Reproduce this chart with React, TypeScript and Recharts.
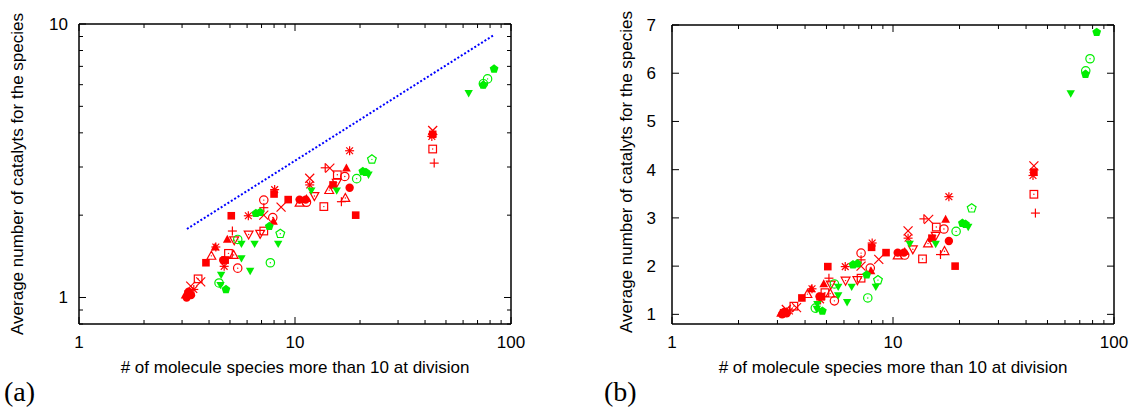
import React from 'react'
import { ScatterChart, Scatter, XAxis, YAxis } from 'recharts'

type Pt = { x: number; y: number }

// values (same data, log y on the left, linear y on the right)
const redFilledSquare: Pt[] = [
    { x: 3.2, y: 1.03 }, { x: 3.87, y: 1.34 }, { x: 4.75, y: 1.37 }, { x: 5.07, y: 1.99 },
    { x: 8.0, y: 2.39 }, { x: 9.3, y: 2.28 }, { x: 15.0, y: 2.58 }, { x: 19.1, y: 2.0 }, { x: 43.4, y: 3.95 },
]
const redFilledCircle: Pt[] = [
    { x: 3.15, y: 1.0 }, { x: 3.3, y: 1.02 }, { x: 3.22, y: 1.05 }, { x: 4.65, y: 1.37 },
    { x: 10.5, y: 2.28 }, { x: 11.2, y: 2.28 }, { x: 17.9, y: 2.52 },
]
const redFilledTriangle: Pt[] = [
    { x: 3.1, y: 1.02 }, { x: 4.27, y: 1.53 }, { x: 4.86, y: 1.63 }, { x: 7.95, y: 1.9 },
    { x: 11.3, y: 2.3 }, { x: 17.3, y: 2.97 },
]
const redOpenTriangle: Pt[] = [
    { x: 4.1, y: 1.42 }, { x: 5.2, y: 1.43 }, { x: 10.5, y: 2.22 }, { x: 14.4, y: 2.47 }, { x: 17.1, y: 2.31 },
]
const redOpenTriangleDown: Pt[] = [
    { x: 5.23, y: 1.62 }, { x: 6.1, y: 1.7 }, { x: 6.9, y: 1.71 }, { x: 12.3, y: 2.35 }, { x: 15.6, y: 2.63 },
]
const redOpenSquare: Pt[] = [
    { x: 3.56, y: 1.17 }, { x: 4.92, y: 1.45 }, { x: 7.17, y: 1.75 }, { x: 13.6, y: 2.15 },
    { x: 15.7, y: 2.81 }, { x: 43.4, y: 3.49 },
]
const redOpenCircle: Pt[] = [
    { x: 5.43, y: 1.28 }, { x: 7.17, y: 2.27 }, { x: 7.89, y: 1.96 }, { x: 11.3, y: 2.23 }, { x: 17.0, y: 2.77 },
]
const redCross: Pt[] = [
    { x: 3.29, y: 1.1 }, { x: 3.66, y: 1.14 }, { x: 7.17, y: 2.0 }, { x: 8.62, y: 2.14 },
    { x: 11.7, y: 2.73 }, { x: 14.5, y: 2.97 }, { x: 43.4, y: 4.08 },
]
const redAsterisk: Pt[] = [
    { x: 3.4, y: 1.07 }, { x: 4.3, y: 1.53 }, { x: 4.7, y: 1.3 }, { x: 6.08, y: 1.99 },
    { x: 8.05, y: 2.48 }, { x: 11.7, y: 2.58 }, { x: 17.9, y: 3.44 }, { x: 43.0, y: 3.88 },
]
const redPlus: Pt[] = [
    { x: 5.13, y: 1.75 }, { x: 7.17, y: 2.13 }, { x: 13.8, y: 2.98 }, { x: 16.4, y: 2.24 }, { x: 44.1, y: 3.1 },
]
const greenTriangleDown: Pt[] = [
    { x: 4.55, y: 1.21 }, { x: 4.52, y: 1.11 }, { x: 5.65, y: 1.57 }, { x: 5.65, y: 1.39 },
    { x: 6.2, y: 1.25 }, { x: 6.5, y: 1.57 }, { x: 8.36, y: 1.57 }, { x: 11.9, y: 2.46 },
    { x: 15.6, y: 2.46 }, { x: 21.9, y: 2.81 }, { x: 63.7, y: 5.58 },
]
const greenFilledPentagon: Pt[] = [
    { x: 4.79, y: 1.07 }, { x: 6.59, y: 2.03 }, { x: 6.9, y: 2.05 }, { x: 7.6, y: 1.82 },
    { x: 20.6, y: 2.89 }, { x: 21.3, y: 2.87 }, { x: 74.3, y: 5.98 }, { x: 83.5, y: 6.85 },
]
const greenOpenCircle: Pt[] = [
    { x: 4.45, y: 1.13 }, { x: 5.43, y: 1.63 }, { x: 7.69, y: 1.34 }, { x: 19.3, y: 2.72 },
    { x: 77.9, y: 6.3 }, { x: 74.5, y: 6.05 },
]
const greenOpenPentagon: Pt[] = [
    { x: 8.55, y: 1.71 }, { x: 22.7, y: 3.2 },
]
// dotted guide (panel a only), ~ sqrt(x)
const guideLine: Pt[] = [{ x: 3.16, y: 1.78 }, { x: 83.5, y: 9.12 }]

const xTicks = [1, 2, 3, 4, 5, 6, 7, 8, 9, 10, 20, 30, 40, 50, 60, 70, 80, 90, 100]
const xMajor = [1, 10, 100]
const yTicksLog = [0.8, 0.9, 1, 2, 3, 4, 5, 6, 7, 8, 9, 10]
const yMajorLog = [1, 10]
const yTicksLin = [1, 2, 3, 4, 5, 6, 7]

const RED = '#ff0000'
const GREEN = '#00ee00'
const FONT = '"Liberation Sans", Arial, Helvetica, sans-serif'

const series = [
    { name: 'rsq', data: redFilledSquare, kind: 'sqf', color: RED },
    { name: 'rci', data: redFilledCircle, kind: 'circf', color: RED },
    { name: 'rtr', data: redFilledTriangle, kind: 'trif', color: RED },
    { name: 'rto', data: redOpenTriangle, kind: 'trio', color: RED },
    { name: 'rtd', data: redOpenTriangleDown, kind: 'trido', color: RED },
    { name: 'rso', data: redOpenSquare, kind: 'sqo', color: RED },
    { name: 'rco', data: redOpenCircle, kind: 'circo', color: RED },
    { name: 'rx', data: redCross, kind: 'x', color: RED },
    { name: 'rst', data: redAsterisk, kind: 'star', color: RED },
    { name: 'rpl', data: redPlus, kind: 'plus', color: RED },
    { name: 'gtd', data: greenTriangleDown, kind: 'tridf', color: GREEN },
    { name: 'gpf', data: greenFilledPentagon, kind: 'pentf', color: GREEN },
    { name: 'gco', data: greenOpenCircle, kind: 'circo', color: GREEN },
    { name: 'gpo', data: greenOpenPentagon, kind: 'pento', color: GREEN },
]

function pentagon(cx: number, cy: number, r: number) {
    const pts = []
    for (let i = 0; i < 5; i++) {
        const a = -Math.PI / 2 + (i * 2 * Math.PI) / 5
        pts.push(`${cx + r * Math.cos(a)},${cy + r * Math.sin(a)}`)
    }
    return pts.join(' ')
}

function Marker({ cx, cy, kind, color }: any) {
    if (cx == null || cy == null) return null
    const s = 3.8
    const sw = 1.2
    const dot = <circle cx={cx} cy={cy} r={0.7} fill={color} />
    switch (kind) {
        case 'sqf':
            return <rect x={cx - s} y={cy - s} width={2 * s} height={2 * s} fill={color} />
        case 'circf':
            return <circle cx={cx} cy={cy} r={4.2} fill={color} />
        case 'trif':
            return <polygon points={`${cx},${cy - 4.6} ${cx - 4.4},${cy + 3.4} ${cx + 4.4},${cy + 3.4}`} fill={color} />
        case 'trio':
            return <g><polygon points={`${cx},${cy - 4.6} ${cx - 4.4},${cy + 3.4} ${cx + 4.4},${cy + 3.4}`} fill="none" stroke={color} strokeWidth={sw} />{dot}</g>
        case 'trido':
            return <g><polygon points={`${cx},${cy + 4.6} ${cx - 4.4},${cy - 3.4} ${cx + 4.4},${cy - 3.4}`} fill="none" stroke={color} strokeWidth={sw} />{dot}</g>
        case 'tridf':
            return <polygon points={`${cx},${cy + 4.2} ${cx - 4.2},${cy - 3.2} ${cx + 4.2},${cy - 3.2}`} fill={color} />
        case 'sqo':
            return <g><rect x={cx - s} y={cy - s} width={2 * s} height={2 * s} fill="none" stroke={color} strokeWidth={sw} />{dot}</g>
        case 'circo':
            return <g><circle cx={cx} cy={cy} r={4.2} fill="none" stroke={color} strokeWidth={sw} />{dot}</g>
        case 'x':
            return <g stroke={color} strokeWidth={sw}><line x1={cx - 4.5} y1={cy - 4.5} x2={cx + 4.5} y2={cy + 4.5} /><line x1={cx - 4.5} y1={cy + 4.5} x2={cx + 4.5} y2={cy - 4.5} /></g>
        case 'plus':
            return <g stroke={color} strokeWidth={sw}><line x1={cx - 4.5} y1={cy} x2={cx + 4.5} y2={cy} /><line x1={cx} y1={cy - 4.5} x2={cx} y2={cy + 4.5} /></g>
        case 'star':
            return <g stroke={color} strokeWidth={sw}>
                <line x1={cx - 4.5} y1={cy} x2={cx + 4.5} y2={cy} /><line x1={cx} y1={cy - 4.5} x2={cx} y2={cy + 4.5} />
                <line x1={cx - 3.4} y1={cy - 3.4} x2={cx + 3.4} y2={cy + 3.4} /><line x1={cx - 3.4} y1={cy + 3.4} x2={cx + 3.4} y2={cy - 3.4} />
            </g>
        case 'pentf':
            return <polygon points={pentagon(cx, cy, 4.6)} fill={color} />
        case 'pento':
            return <g><polygon points={pentagon(cx, cy, 4.6)} fill="none" stroke={color} strokeWidth={sw} />{dot}</g>
    }
    return null
}

const tickText = { fontFamily: FONT, fontSize: 17, fill: '#000' }

const bottomTick = (props: any) => {
    const { x, y, payload } = props
    const major = xMajor.includes(payload.value)
    return (
        <g>
            <line x1={x} y1={y} x2={x} y2={y - (major ? 7 : 4)} stroke="#000" strokeWidth={1} />
            {major && <text x={x} y={y + 24} textAnchor="middle" {...tickText}>{payload.value}</text>}
        </g>
    )
}
const topTick = (props: any) => {
    const { x, y, payload } = props
    const major = xMajor.includes(payload.value)
    return <line x1={x} y1={y} x2={x} y2={y + (major ? 7 : 4)} stroke="#000" strokeWidth={1} />
}
const leftTick = (majors: number[], gap: number) => (props: any) => {
    const { x, y, payload } = props
    const major = majors.includes(payload.value)
    return (
        <g>
            <line x1={x} y1={y} x2={x + (major ? 7 : 4)} y2={y} stroke="#000" strokeWidth={1} />
            {major && <text x={x - gap} y={y + 6} textAnchor="end" {...tickText}>{payload.value}</text>}
        </g>
    )
}
const rightTick = (majors: number[]) => (props: any) => {
    const { x, y, payload } = props
    const major = majors.includes(payload.value)
    return <line x1={x} y1={y} x2={x - (major ? 7 : 4)} y2={y} stroke="#000" strokeWidth={1} />
}

const frame = { stroke: '#000', strokeWidth: 1.5 }

function Panel({ logY, width, margin, gap }: any) {
    const yTicks = logY ? yTicksLog : yTicksLin
    const yMajor = logY ? yMajorLog : yTicksLin
    const yDomain = logY ? [0.8, 10] : [0.8, 7]
    return (
        <ScatterChart width={width} height={413} margin={margin}>
            <XAxis dataKey="x" type="number" scale="log" domain={[1, 100]} allowDataOverflow ticks={xTicks}
                interval={0} tickSize={0} tickMargin={0} tickLine={false} height={1} axisLine={frame} tick={bottomTick} />
            <XAxis xAxisId="top" orientation="top" dataKey="x" type="number" scale="log" domain={[1, 100]} allowDataOverflow
                ticks={xTicks} interval={0} tickSize={0} tickMargin={0} tickLine={false} height={1} axisLine={frame} tick={topTick} />
            <YAxis dataKey="y" type="number" scale={logY ? 'log' : 'linear'} domain={yDomain} allowDataOverflow ticks={yTicks}
                interval={0} tickSize={0} tickMargin={0} tickLine={false} width={1} axisLine={frame} tick={leftTick(yMajor, gap)} />
            <YAxis yAxisId="right" orientation="right" dataKey="y" type="number" scale={logY ? 'log' : 'linear'} domain={yDomain}
                allowDataOverflow ticks={yTicks} interval={0} tickSize={0} tickMargin={0} tickLine={false} width={1}
                axisLine={frame} tick={rightTick(yMajor)} />
            {logY && (
                <Scatter data={guideLine} isAnimationActive={false} shape={() => <g />}
                    line={{ stroke: '#0000ff', strokeWidth: 2, strokeDasharray: '2 2' }} />
            )}
            {series.map(s => (
                <Scatter key={s.name} data={s.data} isAnimationActive={false}
                    shape={(p: any) => <Marker cx={p.cx} cy={p.cy} kind={s.kind} color={s.color} />} />
            ))}
        </ScatterChart>
    )
}

const titleStyle: React.CSSProperties = {
    position: 'absolute', fontFamily: FONT, fontSize: 17, whiteSpace: 'nowrap', color: '#000',
}
const panelTag: React.CSSProperties = {
    position: 'absolute', fontFamily: '"Liberation Serif", "DejaVu Serif", serif', fontSize: 28, top: 376, color: '#000',
}

export default function App() {
    const xLabel = '# of molecule species more than 10 at division'
    const yLabel = 'Average number of catalyts for the species'
    return (
        <div style={{ position: 'absolute', left: 0, top: 0, width: 1131, height: 413, background: '#fff', overflow: 'hidden' }}>
            <div style={{ position: 'absolute', left: 0, top: 0 }}>
                <Panel logY width={566} margin={{ top: 23, right: 54, bottom: 88, left: 78 }} gap={11} />
            </div>
            <div style={{ position: 'absolute', left: 566, top: 0 }}>
                <Panel logY={false} width={565} margin={{ top: 24, right: 16, bottom: 88, left: 105 }} gap={16} />
            </div>
            <div style={{ ...titleStyle, left: 295, top: 368, transform: 'translate(-50%, -50%)' }}>{xLabel}</div>
            <div style={{ ...titleStyle, left: 893, top: 368, transform: 'translate(-50%, -50%)' }}>{xLabel}</div>
            <div style={{ ...titleStyle, left: 18, top: 174, transform: 'translate(-50%, -50%) rotate(-90deg)' }}>{yLabel}</div>
            <div style={{ ...titleStyle, left: 627, top: 172, transform: 'translate(-50%, -50%) rotate(-90deg)' }}>{yLabel}</div>
            <div style={{ ...panelTag, left: 4 }}>(a)</div>
            <div style={{ ...panelTag, left: 604 }}>(b)</div>
        </div>
    )
}
